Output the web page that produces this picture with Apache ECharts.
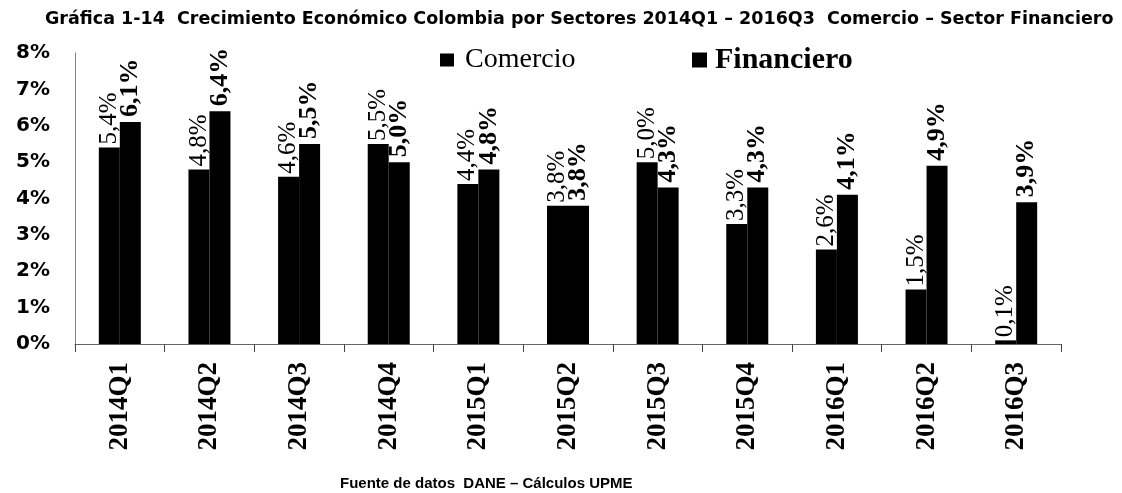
<!DOCTYPE html>
<html>
<head>
<meta charset="utf-8">
<title>Gráfica 1-14</title>
<script src="https://cdn.jsdelivr.net/npm/echarts@6/dist/echarts.min.js"></script>
<style>
  html, body { margin: 0; padding: 0; background: #fff; }
  #main { width: 1122px; height: 493px; }
</style>
</head>
<body>
<div id="main"></div>
<script>
  // datos
  var categorias = ['2014Q1', '2014Q2', '2014Q3', '2014Q4', '2015Q1', '2015Q2', '2015Q3', '2015Q4', '2016Q1', '2016Q2', '2016Q3']
  var comercio = [5.4, 4.8, 4.6, 5.5, 4.4, 3.8, 5.0, 3.3, 2.6, 1.5, 0.1]
  var financiero = [6.1, 6.4, 5.5, 5.0, 4.8, 3.8, 4.3, 4.3, 4.1, 4.9, 3.9]
  var ejeY = { min: 0, max: 8, interval: 1 }

  var titulo = 'Gráfica 1-14  Crecimiento Económico Colombia por Sectores 2014Q1 – 2016Q3  Comercio – Sector Financiero'
  var fuente = 'Fuente de datos  DANE – Cálculos UPME'

  // 5.4 -> "5,4%"
  function pct (v) {
    return v.toFixed(1).replace('.', ',') + '%'
  }

  var serif = 'Liberation Serif, Times New Roman, serif'

  var myChart = echarts.init(document.getElementById('main'))
  myChart.setOption({
    animation: false,
    title: [{
      text: titulo,
      left: 40,
      top: 5,
      textStyle: {
        fontFamily: 'DejaVu Sans, Verdana, sans-serif',
        fontWeight: 'bold',
        fontSize: 17.5,
        color: '#000'
      }
    }, {
      text: fuente,
      left: 335,
      top: 471,
      textStyle: {
        fontFamily: 'Liberation Sans, Arial, sans-serif',
        fontWeight: 'bold',
        fontSize: 15,
        color: '#000'
      }
    }],
    // dos leyendas para poder darles estilos distintos
    legend: [{
      data: ['Comercio'],
      left: 435,
      top: 41,
      itemWidth: 14,
      itemHeight: 13,
      icon: 'rect',
      textStyle: {
        fontFamily: serif,
        fontSize: 28,
        color: '#000',
        padding: [0, 0, 0, 6]
      }
    }, {
      data: ['Financiero'],
      left: 687,
      top: 40,
      itemWidth: 15,
      itemHeight: 15,
      icon: 'rect',
      textStyle: {
        fontFamily: serif,
        fontWeight: 'bold',
        fontSize: 30,
        color: '#000',
        padding: [0, 0, 0, 3]
      }
    }],
    grid: {
      left: 75,
      right: 61,
      top: 53,
      bottom: 149
    },
    xAxis: {
      type: 'category',
      data: categorias,
      axisLine: { lineStyle: { color: '#666', width: 1 } },
      axisTick: { show: true, length: 8, lineStyle: { color: '#444' } },
      axisLabel: {
        rotate: 90,
        margin: 18,
        fontFamily: serif,
        fontWeight: 'bold',
        fontSize: 27,
        color: '#000'
      }
    },
    yAxis: {
      type: 'value',
      min: ejeY.min,
      max: ejeY.max,
      interval: ejeY.interval,
      splitLine: { show: false },
      axisLine: { show: true, lineStyle: { color: '#888', width: 1 } },
      axisTick: { show: false },
      axisLabel: {
        margin: 25,
        formatter: '{value}%',
        fontFamily: 'DejaVu Sans, Verdana, sans-serif',
        fontWeight: 'bold',
        fontSize: 20,
        color: '#000'
      }
    },
    series: [{
      name: 'Comercio',
      type: 'bar',
      data: comercio,
      barWidth: 21,
      barGap: '0%',
      itemStyle: { color: '#000' },
      label: {
        show: true,
        position: 'top',
        rotate: 90,
        align: 'left',
        verticalAlign: 'middle',
        distance: 3,
        formatter: function (p) { return pct(p.value) },
        fontFamily: serif,
        fontSize: 25,
        color: '#000'
      }
    }, {
      name: 'Financiero',
      type: 'bar',
      data: financiero,
      barWidth: 21,
      barGap: '0%',
      itemStyle: { color: '#000' },
      label: {
        show: true,
        position: 'top',
        rotate: 90,
        align: 'left',
        verticalAlign: 'middle',
        distance: 5,
        formatter: function (p) { return pct(p.value) },
        fontFamily: serif,
        fontWeight: 'bold',
        fontSize: 26,
        color: '#000'
      }
    }]
  })
</script>
</body>
</html>
